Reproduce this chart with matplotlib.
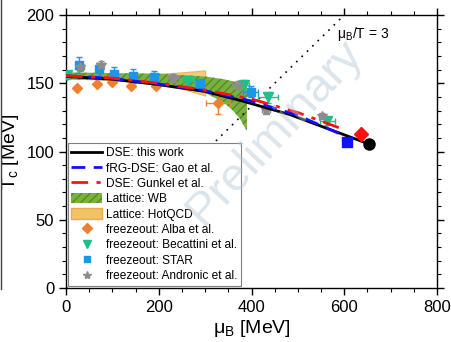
import matplotlib
matplotlib.use("Agg")
import matplotlib.pyplot as plt
import numpy as np
from matplotlib.lines import Line2D
from matplotlib.patches import Patch
from matplotlib.ticker import MultipleLocator

plt.rcParams['font.family'] = ['Liberation Sans', 'DejaVu Sans']
plt.rcParams['mathtext.fontset'] = 'custom'
plt.rcParams['mathtext.rm'] = 'Liberation Sans'
plt.rcParams['mathtext.it'] = 'Liberation Sans:italic'
plt.rcParams['hatch.linewidth'] = 0.9

# DSE: this work
dse_mu = [0, 100, 200, 300, 375, 483, 590, 653]
dse_T = [155, 153, 149, 144, 137.5, 127, 113.5, 105.5]
dse_end = (653, 105.5)

# fRG-DSE: Gao et al.
gao_mu = [0, 100, 200, 300, 400, 500, 590]
gao_T = [155.5, 153.5, 149.5, 144.5, 137, 126.5, 113]
gao_end = (606, 107)

# DSE: Gunkel et al.
gun_mu = [0, 100, 200, 300, 400, 500, 600]
gun_T = [155.5, 153.8, 150, 145, 138.5, 128.5, 116]
gun_end = (637, 112.5)

# Lattice WB band
wb_mu = [0, 100, 200, 250, 300, 340, 360, 375, 390]
wb_up = [158, 157.5, 157, 156, 155, 153, 151.5, 150, 149]
wb_lo = [153, 152, 149, 146, 143, 136, 130, 124, 115]

# Lattice HotQCD band
hq_mu = [0, 100, 200, 250, 300]
hq_up = [156.5, 156.5, 157, 158, 159.5]
hq_lo = [153.5, 152.5, 149, 146, 141]

# freezeout: Alba et al.
alba_mu = [24, 67, 100, 140, 194, 327]
alba_T = [146.3, 149.4, 151, 148.3, 148.3, 135.3]
alba_xerr = [0, 0, 0, 0, 0, 26]
alba_yerr = [1, 1, 1.5, 1, 1, 7.6]

# freezeout: Becattini et al.
bec_mu = [2, 264, 384, 436, 563]
bec_T = [156, 151.9, 148.5, 139.7, 122.5]
bec_xerr = [0, 11, 10, 22, 16]
bec_yerr = [3, 3, 4, 4, 3]

# freezeout: STAR
star_mu = [29, 71, 103, 145, 190, 289, 398]
star_T = [163.4, 160.2, 156.6, 155.3, 154.3, 149.5, 143.8]
star_xerr = [0, 0, 0, 0, 0, 8, 16]
star_yerr = [6, 5, 5, 5, 5, 4, 4]

# freezeout: Andronic et al.
and_mu = [30, 75, 231, 371, 431, 551]
and_T = [161.7, 163.4, 154.1, 148.7, 130.2, 126]
and_xerr = [8, 8, 12, 12, 8, 6]
and_yerr = [3, 3, 3, 3, 2.5, 2.5]

c_alba = '#f08030'
c_bec = '#1ec088'
c_star = '#1e96e6'
c_and = '#8c8c8c'
c_wb = '#7ab040'
c_hq = '#f0c464'

fig = plt.figure(figsize=(4.51, 3.42), dpi=100)
ax = fig.add_axes([0.1463, 0.158, 0.8227, 0.798])

# watermark (drawn over everything, translucent)
ax.text(450, 114, 'Preliminary', fontsize=34, color='#b4c6d6', alpha=0.45,
        rotation=47, ha='center', va='center', zorder=11)

# bands
ax.fill_between(hq_mu, hq_lo, hq_up, facecolor=c_hq, edgecolor='#f0a850',
                alpha=0.85, lw=0.8, zorder=1)
ax.fill_between(wb_mu, wb_lo, wb_up, facecolor=c_wb, edgecolor='#4e8a1e',
                hatch='////', lw=0, zorder=2)

# dotted line muB/T = 3
mu_line = np.array([0, 600])
ax.plot(mu_line, mu_line / 3, ls=(0, (1, 3.5)), color='black', lw=1.2, zorder=2)
ax.text(640, 186, 'μ$_\\mathrm{B}$/T = 3', fontsize=10, ha='center', va='center')

# freezeout points
ek = dict(capsize=2.5, elinewidth=1.0, capthick=1.0, ls='none', zorder=4)
ax.errorbar(alba_mu, alba_T, xerr=alba_xerr, yerr=alba_yerr, marker='D',
            ms=5.5, color=c_alba, **ek)
ax.errorbar(bec_mu, bec_T, xerr=bec_xerr, yerr=bec_yerr, marker='v',
            ms=6.5, color=c_bec, **ek)
ax.errorbar(star_mu, star_T, xerr=star_xerr, yerr=star_yerr, marker='s',
            ms=6, color=c_star, **ek)
ax.errorbar(and_mu, and_T, xerr=and_xerr, yerr=and_yerr, marker='*',
            ms=7, color=c_and, **ek)

# theory curves
ax.plot(dse_mu, dse_T, color='black', lw=2.0, zorder=5)
ax.plot(gao_mu, gao_T, color='#1010ff', lw=2.0, ls=(0, (5, 3)), zorder=6)
ax.plot(gun_mu, gun_T, color='#ff1010', lw=2.0, ls=(0, (6, 3, 1.5, 3)), zorder=6)
ax.plot(*dse_end, marker='o', ms=8, color='black', zorder=7)
ax.plot(*gao_end, marker='s', ms=7, color='#1010ff', zorder=7)
ax.plot(*gun_end, marker='D', ms=7, color='#ff1010', zorder=7)

ax.set_xlim(0, 800)
ax.set_ylim(0, 200)
ax.xaxis.set_major_locator(MultipleLocator(200))
ax.xaxis.set_minor_locator(MultipleLocator(50))
ax.yaxis.set_major_locator(MultipleLocator(50))
ax.yaxis.set_minor_locator(MultipleLocator(10))
ax.tick_params(which='both', top=True, right=True, labelsize=12)
ax.tick_params(which='major', length=5, width=1)
ax.tick_params(which='minor', length=3, width=0.8)
ax.tick_params(axis='both', which='both', direction='out')
for sp in ax.spines.values():
    sp.set_linewidth(1.0)

ax.set_xlabel('μ$_\\mathrm{B}$ [MeV]', fontsize=14, labelpad=2)
ax.set_ylabel('T$_\\mathrm{c}$ [MeV]', fontsize=14, labelpad=4)

handles = [
    Line2D([], [], color='black', lw=2),
    Line2D([], [], color='#1010ff', lw=2, ls=(0, (5, 3))),
    Line2D([], [], color='#ff1010', lw=2, ls=(0, (6, 3, 1.5, 3))),
    Patch(facecolor=c_wb, edgecolor='#4e8a1e', hatch='////', lw=0),
    Patch(facecolor=c_hq, edgecolor='#f0a850', lw=1),
    Line2D([], [], color=c_alba, marker='D', ls='none', ms=5),
    Line2D([], [], color=c_bec, marker='v', ls='none', ms=6),
    Line2D([], [], color=c_star, marker='s', ls='none', ms=5),
    Line2D([], [], color=c_and, marker='*', ls='none', ms=6),
]
labels = ['DSE: this work', 'fRG-DSE: Gao et al.', 'DSE: Gunkel et al.',
          'Lattice: WB', 'Lattice: HotQCD', 'freezeout: Alba et al.',
          'freezeout: Becattini et al.', 'freezeout: STAR',
          'freezeout: Andronic et al.']
leg = ax.legend(handles, labels, loc='lower left', bbox_to_anchor=(0.005, 0.008),
                borderaxespad=0, fontsize=8.6, frameon=True, fancybox=False,
                edgecolor='#808080', framealpha=1, handlelength=2.6,
                handleheight=0.95, labelspacing=0.26, handletextpad=0.3,
                borderpad=0.3)
leg.get_frame().set_linewidth(0.8)
leg.set_zorder(10)

# left-edge artifact line
fig.add_artist(Line2D([0.003, 0.003], [0.155, 1.0], color='#404040', lw=1,
                      transform=fig.transFigure))

fig.savefig('out.png', dpi=100)
